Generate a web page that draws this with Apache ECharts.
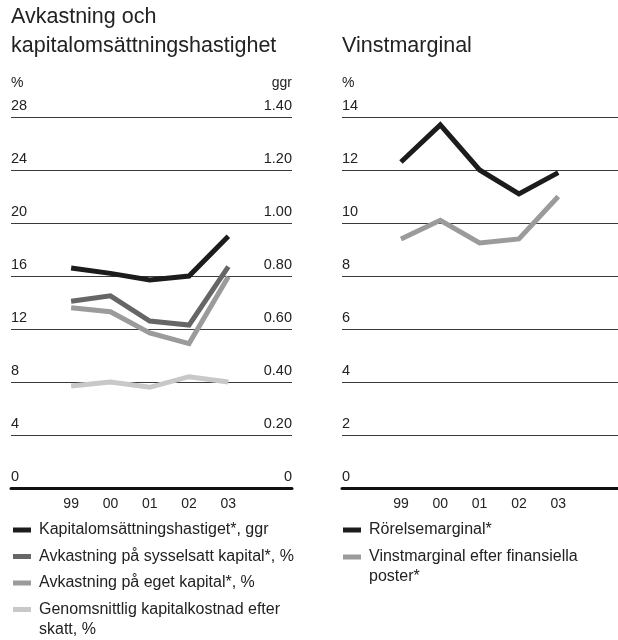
<!DOCTYPE html>
<html>
<head>
<meta charset="utf-8">
<script src="https://cdn.jsdelivr.net/npm/echarts@6/dist/echarts.min.js"></script>
<style>
html,body{margin:0;padding:0;background:#fff;}
#chart{width:618px;height:640px;}
</style>
</head>
<body>
<div id="chart"></div>
<script>
// ---- data ----
var years = ['99', '00', '01', '02', '03'];
var leftPctTicks = [0, 4, 8, 12, 16, 20, 24, 28];
var leftGgrTicks = [0, 0.20, 0.40, 0.60, 0.80, 1.00, 1.20, 1.40];
var rightPctTicks = [0, 2, 4, 6, 8, 10, 12, 14];

var kapitalomsattning = [0.83, 0.81, 0.785, 0.80, 0.95];     // ggr
var avkSysselsatt = [14.1, 14.5, 12.6, 12.3, 16.7];          // %
var avkEget = [13.6, 13.3, 11.7, 10.9, 15.95];               // %
var kapitalkostnad = [7.7, 8.0, 7.6, 8.4, 8.0];              // %
var rorelsemarginal = [12.3, 13.7, 12.0, 11.1, 11.9];        // %
var vinstmarginal = [9.4, 10.1, 9.25, 9.4, 11.0];            // %

var names = {
  kap: 'Kapitalomsättningshastiget*, ggr',
  sys: 'Avkastning på sysselsatt kapital*, %',
  eget: 'Avkastning på eget kapital*, %',
  kost: 'Genomsnittlig kapitalkostnad efter skatt, %',
  ror: 'Rörelsemarginal*',
  vinst: 'Vinstmarginal efter finansiella poster*'
};

function pts(arr) { return arr.map(function (v, i) { return [i, v]; }); }

var FONT = 'Liberation Sans';
var TXT = '#222';
var GRIDC = '#3a3a3a';

function yAxisLeft(gridIndex, ticks) {
  return {
    type: 'value', gridIndex: gridIndex, position: 'left',
    min: ticks[0], max: ticks[ticks.length - 1], interval: ticks[1] - ticks[0],
    axisLine: { show: false }, axisTick: { show: false },
    splitLine: { show: true, lineStyle: { color: GRIDC, width: 1 } },
    axisLabel: { inside: true, margin: 0, verticalAlign: 'bottom', lineHeight: 16, padding: [0, 0, 3, 0],
      fontFamily: FONT, fontSize: 14.5, color: TXT }
  };
}

function xAxis(gridIndex, min, max) {
  return {
    type: 'value', gridIndex: gridIndex, min: min, max: max, position: 'bottom',
    axisLine: { show: true, onZero: false, lineStyle: { color: '#111', width: 3 } },
    axisTick: { show: false }, splitLine: { show: false },
    axisLabel: { customValues: [0, 1, 2, 3, 4], margin: 9, fontFamily: FONT, fontSize: 14, color: TXT,
      formatter: function (v) { return years[Math.round(v)] || ''; } }
  };
}

function line(name, data, color, xi, yi) {
  return { type: 'line', name: name, data: pts(data), xAxisIndex: xi, yAxisIndex: yi,
    symbol: 'none', color: color, lineStyle: { color: color, width: 5, join: 'miter' },
    itemStyle: { color: color }, animation: false };
}

var legendText = { fontFamily: FONT, fontSize: 16, color: TXT, lineHeight: 20, padding: [0, 0, 0, 3] };
var legendBase = { orient: 'vertical', icon: 'rect', itemWidth: 18, itemHeight: 5, padding: 0,
  selectedMode: false, itemGap: 6.5, textStyle: legendText };

function legend(extra) { return Object.assign({}, legendBase, extra); }

function unit(text, x, align) {
  return { type: 'text', x: x, y: 83, style: { text: text, font: '14px "Liberation Sans"', fill: TXT,
    align: align, verticalAlign: 'middle' } };
}

var chart = echarts.init(document.getElementById('chart'), null, { renderer: 'canvas' });
chart.setOption({
  animation: false,
  backgroundColor: '#fff',
  grid: [
    { left: 11, right: 326, top: 117, bottom: 152 },
    { left: 342, right: 0, top: 117, bottom: 152 }
  ],
  graphic: [
    { type: 'text', left: 11, top: 2.5, style: { text: 'Avkastning och\nkapitalomsättningshastighet', font: '21.5px "Liberation Sans"', fill: TXT, lineHeight: 29 } },
    { type: 'text', left: 342, top: 31.5, style: { text: 'Vinstmarginal', font: '21.5px "Liberation Sans"', fill: TXT, lineHeight: 29 } },
    unit('%', 11, 'left'),
    unit('ggr', 292, 'right'),
    unit('%', 342, 'left')
  ],
  xAxis: [xAxis(0, -1.53, 5.62), xAxis(1, -1.5, 5.52)],
  yAxis: [
    yAxisLeft(0, leftPctTicks),
    {
      type: 'value', gridIndex: 0, position: 'right',
      min: leftGgrTicks[0], max: leftGgrTicks[leftGgrTicks.length - 1], interval: 0.2,
      axisLine: { show: false }, axisTick: { show: false }, splitLine: { show: false },
      axisLabel: { inside: true, margin: 0, verticalAlign: 'bottom', lineHeight: 16, padding: [0, 0, 3, 0],
        fontFamily: FONT, fontSize: 14.5, color: TXT,
        formatter: function (v) { return v === 0 ? '0' : v.toFixed(2); } }
    },
    yAxisLeft(1, rightPctTicks)
  ],
  legend: [
    legend({ left: 13, top: 520, data: [names.kap, names.sys, names.eget] }),
    legend({ left: 13, top: 579.5, data: [names.kost],
      formatter: function () { return ' \nGenomsnittlig kapitalkostnad efter\nskatt, %'; } }),
    legend({ left: 343, top: 520, data: [names.ror] }),
    legend({ left: 343, top: 527, data: [names.vinst],
      formatter: function () { return ' \nVinstmarginal efter finansiella\nposter*'; } })
  ],
  series: [
    line(names.kost, kapitalkostnad, '#c8c8c8', 0, 0),
    line(names.eget, avkEget, '#9b9b9b', 0, 0),
    line(names.sys, avkSysselsatt, '#666666', 0, 0),
    line(names.kap, kapitalomsattning, '#1c1c1c', 0, 1),
    line(names.vinst, vinstmarginal, '#9b9b9b', 1, 2),
    line(names.ror, rorelsemarginal, '#1c1c1c', 1, 2)
  ]
});
</script>
</body>
</html>
